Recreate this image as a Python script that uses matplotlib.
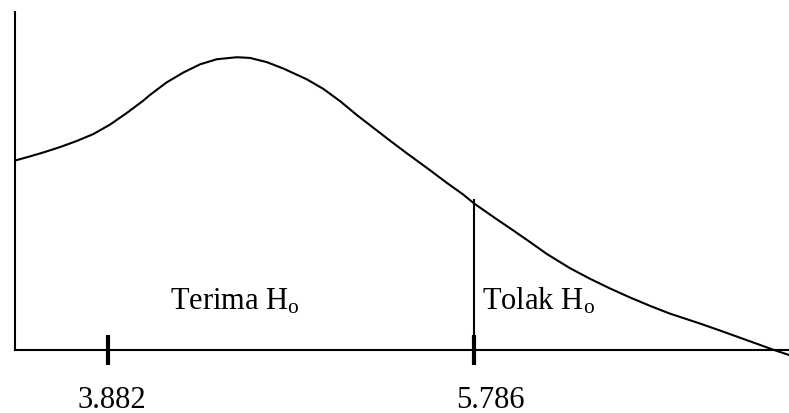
import matplotlib.pyplot as plt

plt.rcParams["font.family"] = ["Liberation Serif", "DejaVu Serif"]
plt.rcParams["mathtext.fontset"] = "custom"
plt.rcParams["mathtext.rm"] = "Liberation Serif"
plt.rcParams["mathtext.it"] = "Liberation Serif:italic"

# kurva distribusi
x_kurva = [3.403, 3.476, 3.545, 3.632, 3.719, 3.806, 3.892, 3.979, 4.066,
           4.100, 4.187, 4.274, 4.361, 4.448, 4.552, 4.621, 4.708, 4.794,
           4.916, 5.002, 5.089, 5.176, 5.262, 5.349, 5.436, 5.557, 5.644,
           5.730, 5.786, 5.904, 5.990, 6.077, 6.164, 6.285, 6.389, 6.494,
           6.598, 6.702, 6.806, 6.962, 7.066, 7.170, 7.274, 7.343, 7.425]
y_kurva = [0.1900, 0.1939, 0.1978, 0.2032, 0.2093, 0.2163, 0.2257, 0.2373,
           0.2498, 0.2554, 0.2680, 0.2779, 0.2861, 0.2912, 0.2932, 0.2925,
           0.2883, 0.2819, 0.2711, 0.2615, 0.2493, 0.2354, 0.2226, 0.2097,
           0.1971, 0.1801, 0.1675, 0.1557, 0.1468, 0.1310, 0.1198, 0.1082,
           0.0963, 0.0820, 0.0714, 0.0616, 0.0526, 0.0442, 0.0364, 0.0265,
           0.0195, 0.0123, 0.0051, 0.0003, -0.0050]

nilai_tabel = 3.882
nilai_kritis = 5.786
tinggi_kritis = 0.150
label_tick = ["3.882", "5.786"]
label_daerah = [r"Terima H$_\mathrm{o}$", r"Tolak H$_\mathrm{o}$"]

fig = plt.figure(figsize=(7.89, 4.14), dpi=100)
ax = fig.add_axes([15 / 789, 63 / 414, 774 / 789, 338 / 414])

ax.plot(x_kurva, y_kurva, color="black", linewidth=1.5,
        solid_joinstyle="round", clip_on=False)
ax.plot([nilai_kritis, nilai_kritis], [0, tinggi_kritis], color="black",
        linewidth=1.5)

ax.set_xlim(3.398, 7.425)
ax.set_ylim(0, 0.3385)

for s in ["top", "right"]:
    ax.spines[s].set_visible(False)
ax.spines["left"].set_linewidth(1.5)
ax.spines["bottom"].set_linewidth(1.5)

ax.set_yticks([])
ax.set_xticks([nilai_tabel, nilai_kritis])
ax.set_xticklabels([])
ax.tick_params(axis="x", direction="inout", length=21.6, width=3.0)

geser = [4, 16]
for nilai, teks, dx in zip([nilai_tabel, nilai_kritis], label_tick, geser):
    ax.annotate(teks, xy=(nilai, 0), xytext=(dx, -35), textcoords="offset pixels",
                ha="center", va="top", fontsize=22, annotation_clip=False)

ax.text(4.205, 0.0415, label_daerah[0], fontsize=22, ha="left", va="baseline")
ax.text(5.828, 0.0415, label_daerah[1], fontsize=22, ha="left", va="baseline")

fig.savefig("out.png", dpi=100)
